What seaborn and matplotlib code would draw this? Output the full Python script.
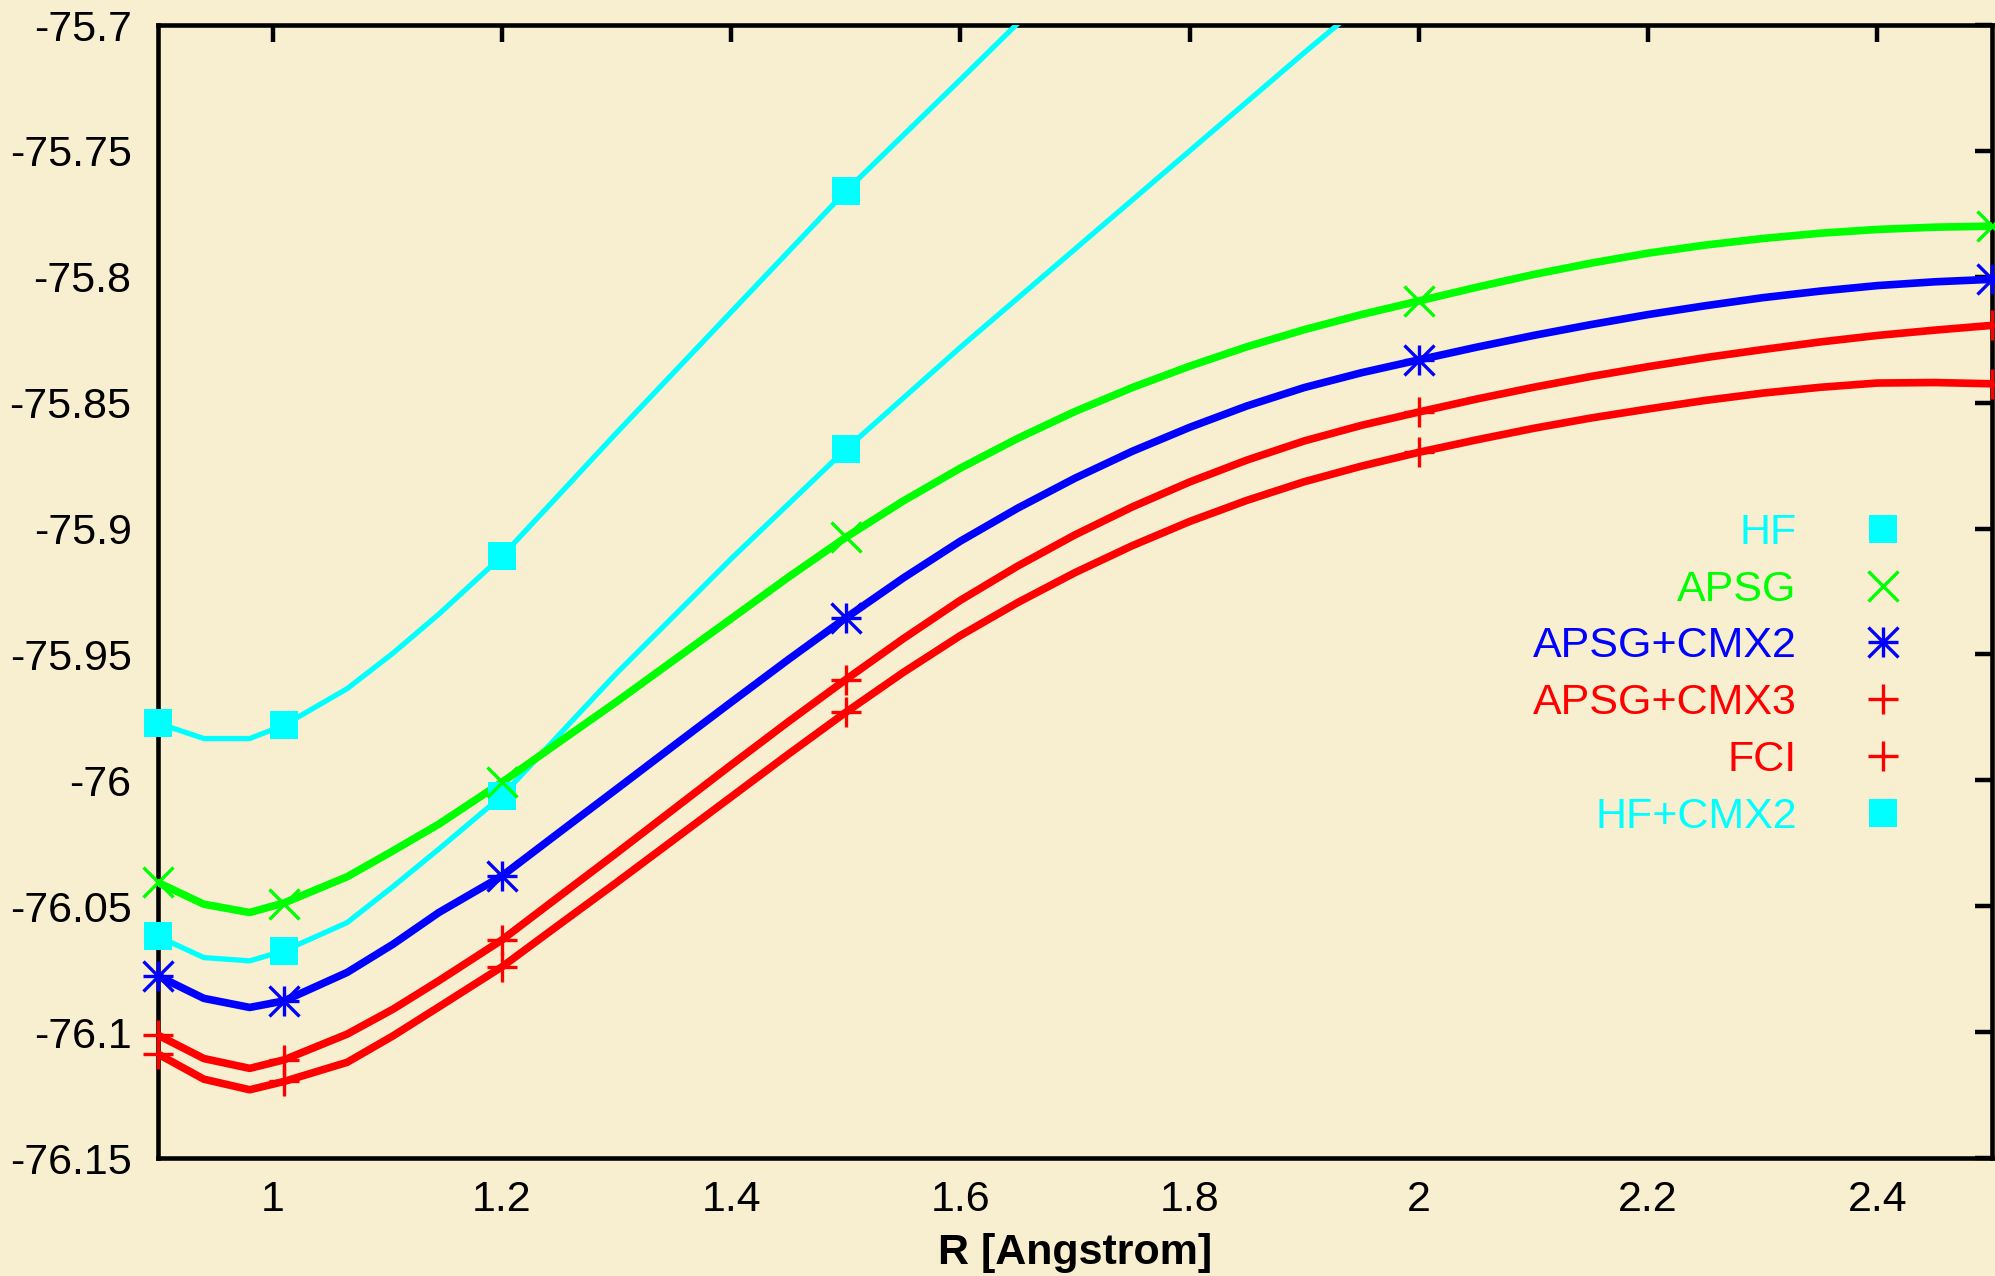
import numpy as np
import pandas as pd
import matplotlib
matplotlib.use("Agg")
import matplotlib.pyplot as plt
import seaborn as sns
from matplotlib.lines import Line2D

# ---------------- data ----------------
series_names = ["HF", "APSG", "APSG+CMX2", "APSG+CMX3", "FCI", "HF+CMX2"]

# line vertices
hf_line_x = [0.9, 0.94, 0.98, 1.01, 1.065, 1.105, 1.145, 1.2, 1.3, 1.4, 1.5, 1.6, 1.7]
hf_line_y = [-75.9773, -75.9834, -75.9834, -75.9781, -75.9636, -75.9495, -75.934,
             -75.911, -75.862, -75.814, -75.766, -75.7217, -75.677]

hfcmx2_line_x = [0.9, 0.94, 0.98, 1.01, 1.065, 1.105, 1.145, 1.2, 1.3, 1.4, 1.5,
                 1.6, 1.7, 1.8, 1.9, 2.0]
hfcmx2_line_y = [-76.062, -76.0704, -76.0717, -76.0677, -76.0565, -76.0422, -76.0273,
                 -76.0062, -75.9575, -75.912, -75.8685, -75.828, -75.789, -75.750,
                 -75.711, -75.673]

line_x = [0.9, 0.94, 0.98, 1.01, 1.065, 1.105, 1.145, 1.2, 1.25, 1.3, 1.35, 1.4,
          1.45, 1.5, 1.55, 1.6, 1.65, 1.7, 1.75, 1.8, 1.85, 1.9, 1.95, 2.0, 2.05,
          2.1, 2.15, 2.2, 2.25, 2.3, 2.35, 2.4, 2.45, 2.5]
apsg_line_y = [-76.0406, -76.0492, -76.0525, -76.0487, -76.0383, -76.028, -76.0174,
               -76.0008, -75.9848, -75.9688, -75.9523, -75.9358, -75.9193, -75.9035,
               -75.8891, -75.876, -75.8642, -75.8535, -75.844, -75.8355, -75.8278,
               -75.821, -75.815, -75.8096, -75.8042, -75.7991, -75.7946, -75.7906,
               -75.7874, -75.7848, -75.7827, -75.7812, -75.7803, -75.7799]
apsg2_line_y = [-76.0777, -76.0866, -76.0902, -76.0876, -76.0763, -76.0651, -76.0525,
                -76.038, -76.0207, -76.0035, -75.9862, -75.969, -75.952, -75.9355,
                -75.9197, -75.905, -75.8919, -75.880, -75.8693, -75.8598, -75.8513,
                -75.844, -75.8381, -75.833, -75.828, -75.8233, -75.819, -75.815,
                -75.8115, -75.8083, -75.8057, -75.8035, -75.802, -75.801]
apsg3_line_y = [-76.1012, -76.1105, -76.1144, -76.111, -76.1008, -76.0909, -76.0796,
                -76.0634, -76.0461, -76.0289, -76.0114, -75.9939, -75.9767, -75.960,
                -75.9438, -75.9285, -75.9149, -75.9025, -75.8914, -75.8815, -75.8728,
                -75.8652, -75.859, -75.8537, -75.8486, -75.8439, -75.8396, -75.8357,
                -75.8321, -75.8289, -75.8259, -75.8233, -75.8212, -75.8193]
fci_line_y = [-76.1087, -76.1187, -76.1229, -76.1196, -76.112, -76.1015, -76.090,
              -76.0741, -76.0573, -76.0406, -76.0236, -76.0066, -75.9896, -75.973,
              -75.9572, -75.9425, -75.9294, -75.9175, -75.9068, -75.8972, -75.8888,
              -75.8814, -75.8752, -75.8697, -75.8648, -75.8602, -75.8561, -75.8525,
              -75.8491, -75.8462, -75.8439, -75.8422, -75.842, -75.8425]

# computed points (markers)
hf_pts_x = [0.9, 1.01, 1.2, 1.5]
hf_pts_y = [-75.9773, -75.978, -75.911, -75.766]
hfcmx2_pts_y = [-76.062, -76.0677, -76.0062, -75.8685]
pts_x = [0.9, 1.01, 1.2, 1.5, 2.0, 2.5]
apsg_pts_y = [-76.0405, -76.049, -76.0008, -75.9035, -75.8096, -75.7799]
apsg2_pts_y = [-76.0777, -76.0876, -76.038, -75.9355, -75.833, -75.801]
apsg3_pts_y = [-76.1012, -76.111, -76.0634, -75.960, -75.8537, -75.8193]
fci_pts_y = [-76.1087, -76.1196, -76.0741, -75.973, -75.8697, -75.8425]

x_ticks = [1.0, 1.2, 1.4, 1.6, 1.8, 2.0, 2.2, 2.4]
x_ticklabels = ["1", "1.2", "1.4", "1.6", "1.8", "2", "2.2", "2.4"]
y_ticks = [-76.15, -76.1, -76.05, -76.0, -75.95, -75.9, -75.85, -75.8, -75.75, -75.7]
y_ticklabels = ["-76.15", "-76.1", "-76.05", "-76", "-75.95", "-75.9", "-75.85",
                "-75.8", "-75.75", "-75.7"]

# ---------------- style ----------------
BG = "#F8EFD0"
CYAN, GREEN, BLUE, RED = "#00FFFF", "#00FF00", "#0000FF", "#FF0000"
FS = 31

sns.set_theme(style="white")
plt.rcParams["font.family"] = ["Liberation Sans", "DejaVu Sans"]

fig = plt.figure(figsize=(19.95, 12.76), dpi=100, facecolor=BG)
ax = fig.add_axes([158 / 1995, 118 / 1276, 1834 / 1995, 1133 / 1276])
ax.set_facecolor(BG)

THIN, THICK = 3.8, 5.5


def draw_line(x, y, color, lw):
    df = pd.DataFrame({"x": x, "y": y})
    sns.lineplot(data=df, x="x", y="y", color=color, linewidth=lw, ax=ax,
                 sort=False, estimator=None, legend=False, zorder=3)


def draw_pts(x, y, color, marker, size, mew):
    df = pd.DataFrame({"x": x, "y": y})
    sns.lineplot(data=df, x="x", y="y", ax=ax, sort=False, estimator=None,
                 legend=False, linestyle="", marker=marker, markersize=size,
                 markeredgewidth=mew, color=color, markerfacecolor=color,
                 markeredgecolor=color, clip_on=False, zorder=4)


draw_line(hf_line_x, hf_line_y, CYAN, THIN)
draw_line(hfcmx2_line_x, hfcmx2_line_y, CYAN, THIN)
draw_line(line_x, apsg_line_y, GREEN, THICK)
draw_line(line_x, apsg2_line_y, BLUE, THICK)
draw_line(line_x, apsg3_line_y, RED, THICK)
draw_line(line_x, fci_line_y, RED, THICK)

SQ, XS, MEW = 20.5, 21, 2.4
draw_pts(hf_pts_x, hf_pts_y, CYAN, "s", SQ, 0)
draw_pts(hf_pts_x, hfcmx2_pts_y, CYAN, "s", SQ, 0)
draw_pts(pts_x, apsg_pts_y, GREEN, "x", XS, MEW)
draw_pts(pts_x, apsg2_pts_y, BLUE, "x", XS, MEW)
draw_pts(pts_x, apsg2_pts_y, BLUE, "+", XS, MEW)
draw_pts(pts_x, apsg3_pts_y, RED, "+", XS, MEW)
draw_pts(pts_x, fci_pts_y, RED, "+", XS, MEW)

ax.set_xlim(0.9, 2.5)
ax.set_ylim(-76.15, -75.7)
ax.set_xticks(x_ticks)
ax.set_xticklabels(x_ticklabels)
ax.set_yticks(y_ticks)
ax.set_yticklabels(y_ticklabels)
ax.tick_params(axis="both", which="both", direction="in", length=12, width=3.2,
               top=True, right=True, labelsize=FS, colors="black")
ax.tick_params(axis="y", pad=19)
ax.tick_params(axis="x", pad=16)
for s in ax.spines.values():
    s.set_visible(True)
    s.set_linewidth(3.3)
    s.set_color("black")
ax.set_ylabel("")
ax.set_xlabel("R [Angstrom]", fontsize=FS, fontweight="bold", color="black",
              va="center")
ax.xaxis.set_label_coords(0.5, -0.0838)
ax.grid(False)

# ---------------- legend ----------------
def mk(marker, color, size, mew):
    return Line2D([], [], linestyle="", marker=marker, markersize=size,
                  markeredgewidth=mew, color=color, markerfacecolor=color,
                  markeredgecolor=color)

handles = [
    mk("s", CYAN, SQ, 0),
    mk("x", GREEN, XS, MEW),
    (mk("x", BLUE, XS, MEW), mk("+", BLUE, XS, MEW)),
    mk("+", RED, XS, MEW),
    mk("+", RED, XS, MEW),
    mk("s", CYAN, SQ, 0),
]
leg_colors = [CYAN, GREEN, BLUE, RED, RED, CYAN]
leg = ax.legend(handles, series_names, loc="center right",
                bbox_to_anchor=(0.957, 0.4265), frameon=False, markerfirst=False,
                fontsize=FS, labelcolor=leg_colors, handlelength=1.4,
                handletextpad=1.3, labelspacing=0.39, borderpad=0,
                borderaxespad=0)

fig.savefig("out.png", dpi=100, facecolor=BG)
